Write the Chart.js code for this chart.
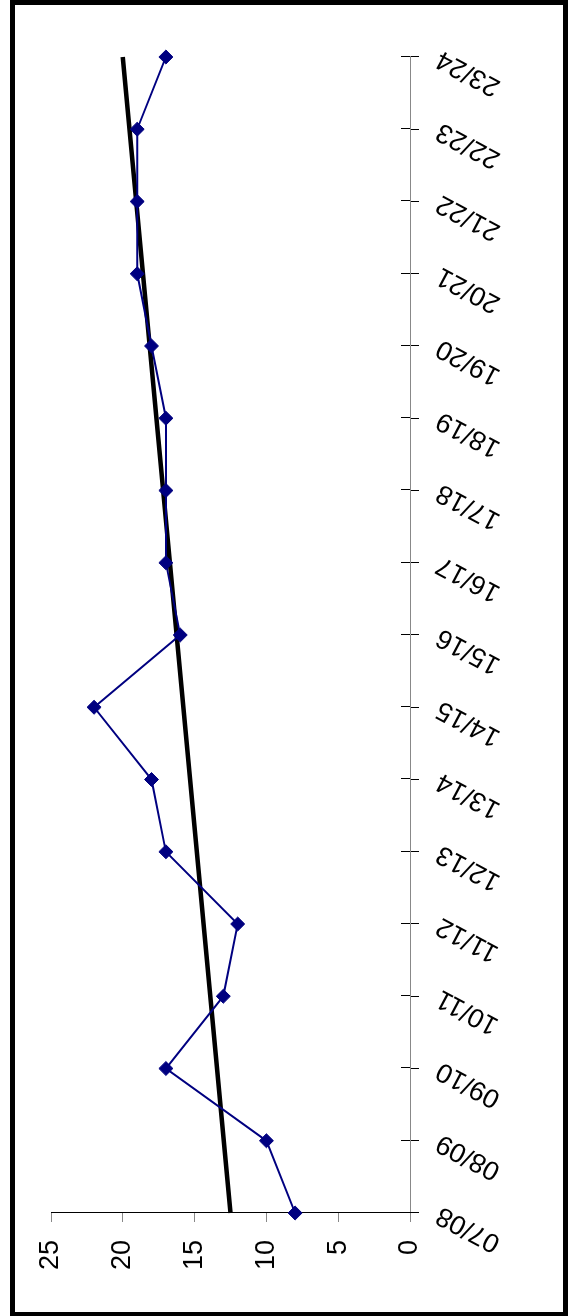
<!DOCTYPE html>
<html>
<head>
<meta charset="utf-8">
<script src="https://cdn.jsdelivr.net/npm/chart.js@4"></script>
<style>
    html, body { margin: 0; padding: 0; background: #fff; }
    body { width: 569px; height: 1316px; position: relative; overflow: hidden; }
    #marco {
        position: absolute; left: 10px; top: 0; width: 558px; height: 1316px;
        box-sizing: border-box; border: 5px solid #000; border-bottom-width: 4px;
    }
    #giro {
        position: absolute; left: 0; top: 0; width: 1316px; height: 569px;
        transform-origin: 0 0; transform: translate(0, 1316px) rotate(-90deg);
    }
</style>
</head>
<body>
<div id="marco"></div>
<div id="giro"><canvas id="myChart" width="1316" height="569"></canvas></div>
<script>
// ===============================
// Datos
// ===============================
const categorias = ['07/08', '08/09', '09/10', '10/11', '11/12', '12/13', '13/14', '14/15',
    '15/16', '16/17', '17/18', '18/19', '19/20', '20/21', '21/22', '22/23', '23/24'];
const valores = [8, 10, 17, 13, 12, 17, 18, 22, 16, 17, 17, 17, 18, 19, 19, 19, 17];
// línea de tendencia: solo los extremos, el resto se une con spanGaps
const tendencia = [12.5, null, null, null, null, null, null, null,
    null, null, null, null, null, null, null, null, 20.0];
const ticksValor = [0, 5, 10, 15, 20, 25];

const fuente = { family: '"Liberation Sans", Arial, sans-serif', size: 27 };

// ===============================
// Marcas del eje de categorías que cruzan el eje
// ===============================
const marcasCruzadas = {
    id: 'marcasCruzadas',
    beforeDatasetsDraw(chart) {
        const x = chart.scales.x;
        const ctx = chart.ctx;
        ctx.save();
        ctx.strokeStyle = '#000';
        ctx.lineWidth = 1;
        ctx.beginPath();
        x.ticks.forEach((t, i) => {
            const px = Math.round(x.getPixelForTick(i)) + 0.5;
            ctx.moveTo(px, x.top - 9);
            ctx.lineTo(px, x.top);
        });
        ctx.stroke();
        ctx.restore();
    }
};

// ===============================
// Renderizar gráfica
// ===============================
const ctx = document.getElementById('myChart').getContext('2d');

window.myChart = new Chart(ctx, {
    type: 'line',
    data: {
        labels: categorias,
        datasets: [
            {
                data: valores,
                borderColor: '#000080',
                backgroundColor: '#000080',
                borderWidth: 2,
                pointStyle: 'rectRot',
                pointRadius: 7,
                pointBorderWidth: 1,
                tension: 0,
                clip: false
            },
            {
                data: tendencia,
                borderColor: '#000',
                borderWidth: 4.5,
                pointRadius: 0,
                spanGaps: true,
                tension: 0,
                clip: false
            }
        ]
    },
    options: {
        responsive: false,
        animation: false,
        layout: { padding: { top: 51, right: 57, left: 0, bottom: 0 } },
        plugins: {
            legend: { display: false },
            tooltip: { enabled: false }
        },
        scales: {
            x: {
                offset: false,
                ticks: {
                    autoSkip: false,
                    minRotation: 62,
                    maxRotation: 62,
                    padding: 12,
                    color: '#000',
                    font: fuente
                },
                grid: {
                    offset: false,
                    drawOnChartArea: false,
                    tickLength: 9,
                    tickColor: '#000'
                },
                border: { color: '#888', width: 1 },
                afterFit(scale) { scale.height = 159; }
            },
            y: {
                min: 0,
                max: 25,
                afterBuildTicks(scale) {
                    scale.ticks = ticksValor.map(v => ({ value: v }));
                },
                ticks: {
                    padding: 18,
                    color: '#000',
                    font: fuente
                },
                grid: {
                    drawOnChartArea: false,
                    tickLength: 9,
                    tickColor: '#888'
                },
                border: { color: '#000', width: 1 },
                afterFit(scale) { scale.width = 103; }
            }
        }
    },
    plugins: [marcasCruzadas]
});
</script>
</body>
</html>
